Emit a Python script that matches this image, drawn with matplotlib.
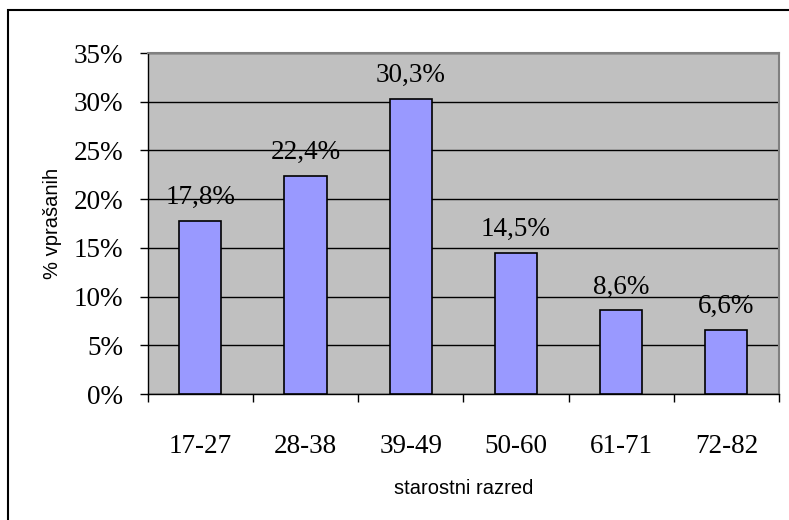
import matplotlib
matplotlib.use("Agg")
import matplotlib.pyplot as plt
from matplotlib.patches import Rectangle
from matplotlib.ticker import FixedLocator, NullFormatter

categories = ["17-27", "28-38", "39-49", "50-60", "61-71", "72-82"]
values = [17.8, 22.4, 30.3, 14.5, 8.6, 6.6]
yticks = [0, 5, 10, 15, 20, 25, 30, 35]

W, H = 789, 520
fig = plt.figure(figsize=(W / 100, H / 100), dpi=100)
fig.patch.set_facecolor("white")

SERIF = "Liberation Serif"
SANS = "Liberation Sans"
FS = 19.5

# chart frame (top and left edges visible)
fig.patches.append(Rectangle((8 / W, -0.1), 1.2, (H - 10) / H + 0.1,
                             transform=fig.transFigure, fill=False,
                             edgecolor="black", linewidth=1.5))

left, right, top, bottom = 147.7, 779, 53, 394
ax = fig.add_axes([left / W, 1 - bottom / H, (right - left) / W, (bottom - top) / H])
ax.set_facecolor("#C0C0C0")

x = list(range(len(categories)))
ax.bar(x, values, width=0.4, color="#9999FF", edgecolor="black", linewidth=1.2, zorder=3)

ax.set_xlim(-0.5, len(categories) - 0.5)
ax.set_ylim(0, 35)

ax.yaxis.set_major_locator(FixedLocator(yticks))
ax.set_yticklabels([f"{t}%" for t in yticks], family=SERIF, fontsize=FS)
ax.grid(axis="y", color="black", linewidth=1.0, zorder=1)

# category boundary ticks + centered labels
ax.xaxis.set_major_locator(FixedLocator([i - 0.5 for i in range(len(categories) + 1)]))
ax.xaxis.set_major_formatter(NullFormatter())
ax.xaxis.set_minor_locator(FixedLocator(x))
ax.set_xticklabels(categories, minor=True, family=SERIF, fontsize=FS)
ax.tick_params(axis="x", which="minor", length=0, pad=29)
ax.tick_params(axis="x", which="major", length=5.8, width=1, direction="out")
ax.tick_params(axis="y", length=5.8, width=1, direction="out", pad=12)

for side in ("top", "right"):
    ax.spines[side].set_color("#808080")
    ax.spines[side].set_linewidth(1.5)
for side in ("left", "bottom"):
    ax.spines[side].set_color("black")
    ax.spines[side].set_linewidth(1.0)

for xi, v in zip(x, values):
    ax.annotate(f"{v:.1f}%".replace(".", ","), (xi, v), xytext=(0, 12),
                textcoords="offset points", ha="center", va="baseline",
                family=SERIF, fontsize=FS, zorder=4)

ax.set_xlabel("starostni razred", family=SANS, fontsize=14.5, labelpad=14)
ax.set_ylabel("% vprašanih", family=SANS, fontsize=14.5, labelpad=8)

fig.savefig("out.png", dpi=100)
